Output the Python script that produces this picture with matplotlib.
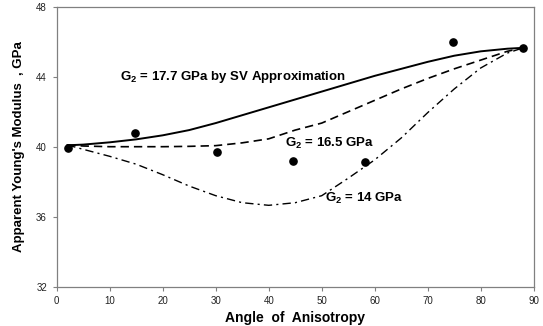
import matplotlib
matplotlib.use("Agg")
import matplotlib.pyplot as plt

plt.rcParams['font.family'] = ['Liberation Sans', 'DejaVu Sans']
plt.rcParams['mathtext.fontset'] = 'custom'
plt.rcParams['mathtext.bf'] = 'Liberation Sans:bold'
plt.rcParams['mathtext.rm'] = 'Liberation Sans'

# Measured data points
meas_x = [2.2, 14.8, 30.3, 44.5, 58.2, 74.7, 88.0]
meas_y = [39.95, 40.77, 39.70, 39.20, 39.10, 45.97, 45.65]

# Model curves
curve_x = [2, 5, 10, 15, 20, 25, 30, 35, 40, 45, 50, 55, 60, 65, 70, 75, 80, 85, 88]
sv_y = [40.08, 40.12, 40.25, 40.42, 40.65, 40.95, 41.35, 41.8, 42.25, 42.7,
        43.15, 43.6, 44.05, 44.45, 44.85, 45.2, 45.45, 45.6, 45.65]
g165_y = [40.1, 40.04, 40.0, 40.0, 40.0, 40.02, 40.06, 40.22, 40.45, 40.95,
          41.35, 42.0, 42.65, 43.3, 43.9, 44.45, 44.95, 45.45, 45.65]
g14_y = [40.1, 39.85, 39.45, 39.0, 38.4, 37.75, 37.2, 36.8, 36.65, 36.8,
         37.2, 38.2, 39.25, 40.5, 41.95, 43.3, 44.5, 45.35, 45.65]

xticks = [0, 10, 20, 30, 40, 50, 60, 70, 80, 90]
yticks = [32, 36, 40, 44, 48]

fig = plt.figure(figsize=(5.43, 3.26), dpi=100)
ax = fig.add_axes([0.1044, 0.1206, 0.8786, 0.8588])

ax.plot(curve_x, sv_y, color='black', lw=1.4, ls='-')
ax.plot(curve_x, g165_y, color='black', lw=1.2, ls=(0, (5, 3)))
ax.plot(curve_x, g14_y, color='black', lw=1.0, ls=(0, (6, 3, 1.5, 3)))
ax.plot(meas_x, meas_y, 'o', color='black', ms=5.2, zorder=5)

ax.set_xlim(0, 90)
ax.set_ylim(32, 48)
ax.set_xticks(xticks)
ax.set_yticks(yticks)
ax.tick_params(direction='out', length=3, width=0.8, color='#808080',
               labelsize=7, labelcolor='#222222', pad=4)
for s in ax.spines.values():
    s.set_color('#808080')
    s.set_linewidth(0.9)

ax.set_xlabel('Angle  of  Anisotropy', fontsize=10, fontweight='bold', labelpad=3)
ax.set_ylabel("Apparent Young's Modulus  , GPa", fontsize=9.5, fontweight='bold', labelpad=8)

ax.text(11.9, 43.98, r'$\mathbf{G_2}$ = 17.7 GPa by SV Approximation',
        fontsize=9.5, fontweight='bold', va='center', ha='left')
ax.text(43.1, 40.19, r'$\mathbf{G_2}$ = 16.5 GPa',
        fontsize=9.5, fontweight='bold', va='center', ha='left')
ax.text(50.6, 37.05, r'$\mathbf{G_2}$ = 14 GPa',
        fontsize=9.5, fontweight='bold', va='center', ha='left')

fig.savefig('out.png', dpi=100)
